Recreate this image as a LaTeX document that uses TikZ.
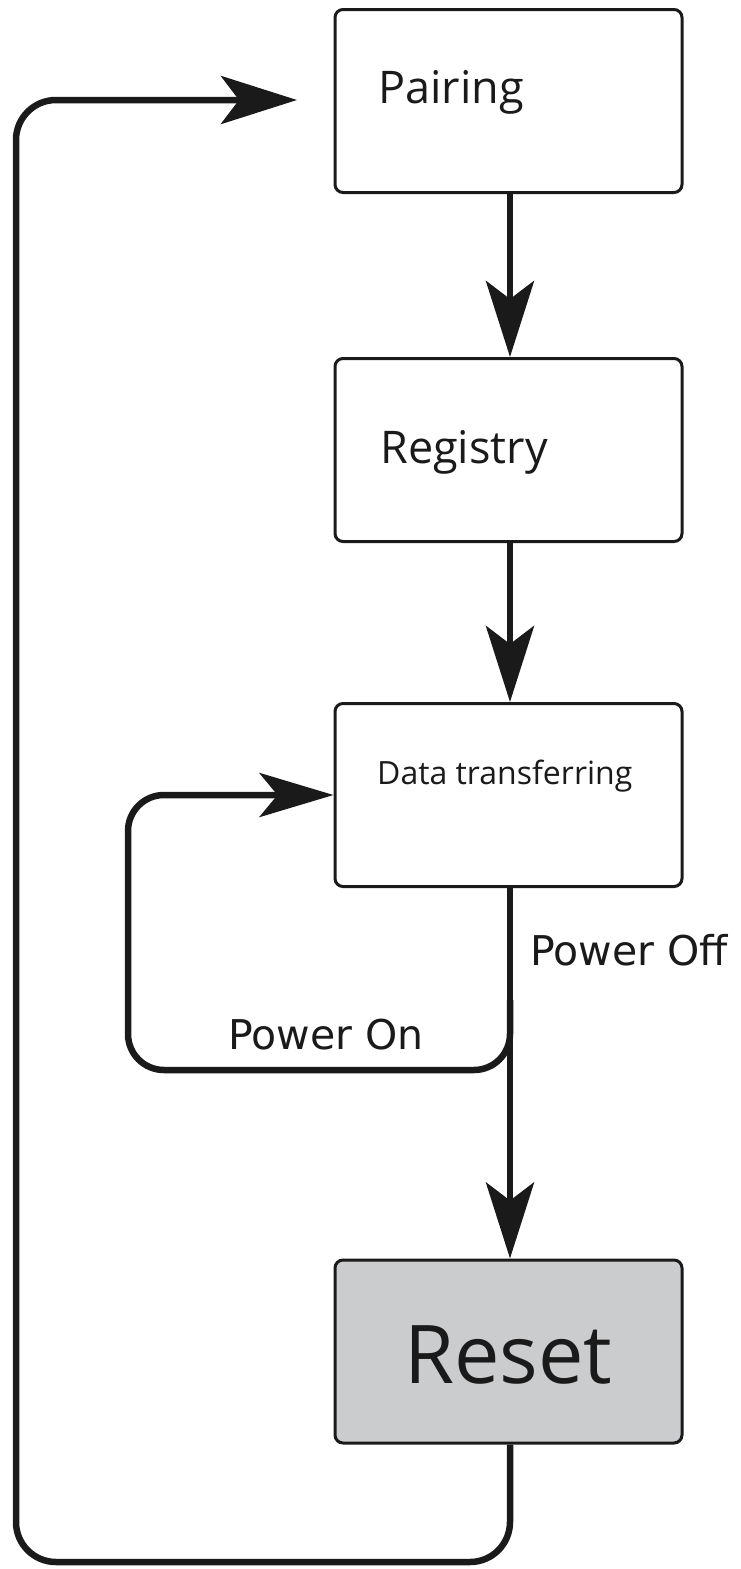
\documentclass[tikz,border=0pt]{standalone}
\usepackage{fontspec}
\setmainfont{Open Sans}
\newfontfamily\lblfont{DejaVu Sans}
\usetikzlibrary{arrows.meta}
\definecolor{ink}{HTML}{1A1A1A}
\definecolor{resetgray}{HTML}{CBCCCE}
\tikzset{
  statebox/.style={draw=ink, line width=3pt, rounded corners=8pt, minimum width=347pt, minimum height=183pt, inner sep=0pt, fill=white},
  flow/.style={draw=ink, line width=6.5pt, -{Stealth[length=76pt,width=48pt,inset=18pt]}},
  loopflow/.style={draw=ink, line width=6.5pt, -{Stealth[length=74pt,width=44pt,inset=18pt]}},
  boxtext/.style={text=ink, anchor=west, inner sep=0pt},
  edgetext/.style={text=ink, anchor=west, inner sep=0pt, font=\lblfont\fontsize{41}{48}\selectfont},
}
\begin{document}
\begin{tikzpicture}[x=1pt,y=-1pt]
\useasboundingbox (0,0) rectangle (740,1569);
% boxes
\node[statebox] (pair) at (508.5,101) {};
\node[statebox] (reg) at (508.5,450) {};
\node[statebox] (data) at (508.5,795) {};
\node[statebox, fill=resetgray] (reset) at (508.5,1351.5) {};
% labels
\node[boxtext, font=\fontsize{45}{54}\selectfont] (pairt) at (378,92) {Pairing};
\node[boxtext, font=\fontsize{45}{54}\selectfont] (regt) at (380,452) {Registry};
\node[boxtext, font=\fontsize{32}{38}\selectfont] (datat) at (377,776) {Data transferring};
\node[text=ink, inner sep=0pt, font=\fontsize{81}{96}\selectfont] (resett) at (508.5,1355) {Reset};
\node[edgetext] (offt) at (530,950) {Power Off};
\node[edgetext] (ont) at (228,1035) {Power On};
% coordinates
\coordinate (pin) at (297,100);
\coordinate (branch) at (510,1000);
% connectors
\draw[flow] (pair.south -| 510,0) -- (reg.north -| 510,0);
\draw[flow] (reg.south -| 510,0) -- (data.north -| 510,0);
\draw[flow] (data.south -| 510,0) -- (reset.north -| 510,0);
\draw[loopflow, rounded corners=36pt] (branch) |- (128,1070) |- (data.west);
\draw[flow, rounded corners=40pt] (reset.south -| 510,0) |- (16,1562) |- (pin);
\end{tikzpicture}
\end{document}
